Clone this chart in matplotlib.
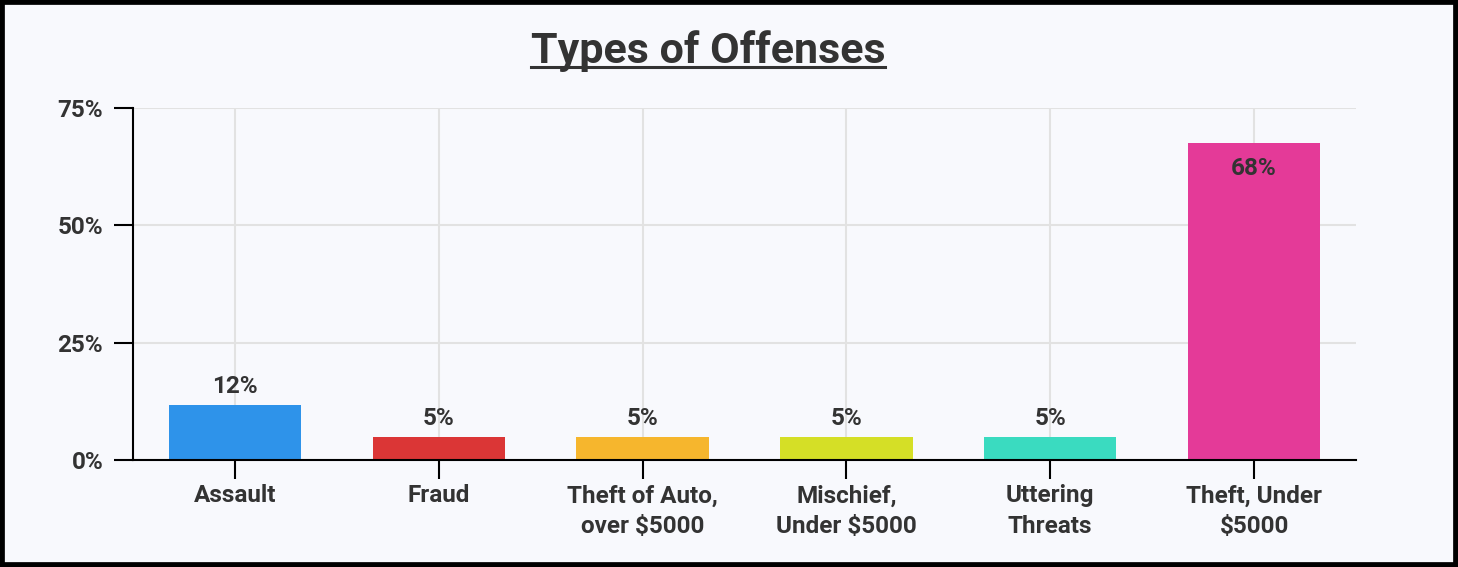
import numpy as np
import matplotlib
matplotlib.use("Agg")
from matplotlib import pyplot as plt
from matplotlib.patches import Rectangle
from matplotlib.lines import Line2D
from matplotlib.ticker import FuncFormatter

categories = ["Assault", "Fraud", "Theft of Auto,\nover $5000", "Mischief,\nUnder $5000",
              "Uttering\nThreats", "Theft, Under\n$5000"]
shares = [11.7, 4.9, 4.9, 4.9, 4.9, 67.6]
bar_colors = ["#2e93ea", "#db3636", "#f6b62d", "#d5df26", "#3adbc0", "#e43a98"]
y_ticks = [0, 25, 50, 75]

plt.rcParams['font.family'] = ['Roboto', 'DejaVu Sans']
plt.rcParams['font.weight'] = 'bold'
TXT = '#333333'
BG = '#f8f9fd'

fig = plt.figure(figsize=(14.58, 5.67), dpi=100, facecolor=BG)
ax = fig.add_axes([133 / 1458, 1 - 460 / 567, 1223 / 1458, 352 / 567])
ax.set_facecolor(BG)

x = np.arange(len(categories))
ax.bar(x, shares, width=0.65, color=bar_colors, zorder=2)

ax.set_xlim(-0.5, len(categories) - 0.5)
ax.set_ylim(0, 75)
ax.set_yticks(y_ticks)
ax.yaxis.set_major_formatter(FuncFormatter(lambda v, p: f"{v:.0f}%"))
ax.set_xticks(x)
ax.set_xticklabels(categories, linespacing=1.45)

ax.grid(True, color='#e2e2e2', linewidth=1.5, zorder=0)
ax.set_axisbelow(True)
for s in ['top', 'right']:
    ax.spines[s].set_visible(False)
for s in ['left', 'bottom']:
    ax.spines[s].set_linewidth(1.5)
    ax.spines[s].set_color('black')
ax.tick_params(axis='both', length=13.5, width=1.5, color='black',
               labelsize=17.5, labelcolor=TXT)
ax.tick_params(axis='y', pad=8)
ax.tick_params(axis='x', pad=4)

# value labels: above short bars, inside tall one
for xi, v in zip(x, shares):
    if v > 40:
        ax.annotate(f"{v:.0f}%", (xi, v), xytext=(0, -10), textcoords='offset points',
                    ha='center', va='top', fontsize=17.5, color=TXT)
    else:
        ax.annotate(f"{v:.0f}%", (xi, v), xytext=(0, 5), textcoords='offset points',
                    ha='center', va='bottom', fontsize=17.5, color=TXT)

title = fig.text(708 / 1458, 1 - 63 / 567, "Types of Offenses", ha='center',
                 va='baseline', fontsize=31, color=TXT)
fig.canvas.draw()
bb = title.get_window_extent()
uy = 1 - 67 / 567
fig.add_artist(Line2D([bb.x0 / 1458, bb.x1 / 1458], [uy, uy], color=TXT, linewidth=2.2))

fig.add_artist(Rectangle((0, 0), 1, 1, transform=fig.transFigure, fill=False,
                         edgecolor='black', linewidth=7))

fig.savefig("out.png", dpi=100, facecolor=BG)
